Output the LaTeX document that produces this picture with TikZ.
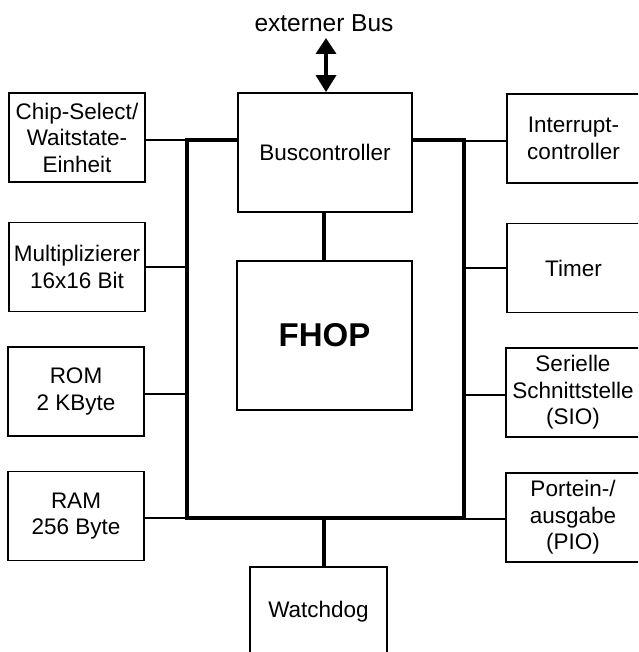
\documentclass[tikz,border=0pt]{standalone}
\usepackage{fontspec}
\setmainfont{Liberation Sans}
\usetikzlibrary{arrows.meta}
\begin{document}
\begin{tikzpicture}[x=1pt,y=-1pt,
  box/.style={draw,line width=1.8pt,fill=white,align=center,inner sep=0pt,
              font=\fontsize{22.5}{26.5}\selectfont},
  unit/.style={box,minimum width=136pt,minimum height=89pt},
  thinline/.style={line width=1.8pt},
  busline/.style={line width=4.5pt},
  link/.style={line width=3.5pt}]
\useasboundingbox (0,0) rectangle (638,652);
\clip (0,0) rectangle (638,652);

% internal bus frame
\coordinate (bnw) at (187,140);
\coordinate (bse) at (464,518);
\draw[busline] (bnw) rectangle (bse);

% taps on the bus
\coordinate (l2) at (187,267);
\coordinate (l3) at (187,394);
\coordinate (l4) at (187,518);
\coordinate (r1) at (464,141);
\coordinate (r2) at (464,268);
\coordinate (r3) at (464,395);
\coordinate (r4) at (464,519);
\coordinate (bsouth) at (324,518);

% core blocks
\node[box,minimum width=174pt,minimum height=119pt] (bc) at (325,152.5) {Buscontroller};
\node[box,minimum width=175pt,minimum height=149pt,
      font=\fontsize{33}{38}\selectfont\bfseries] (fhop) at (324.5,335.5) {FHOP};
\draw[link] (bc.south -| 324,0) -- (fhop.north -| 324,0);

% left peripherals
\node[unit] (cs)  at (77,137.5) {Chip-Select/\\Waitstate-\\Einheit};
\node[unit] (mul) at (77,267)   {Multiplizierer\\16x16 Bit};
\node[unit] (rom) at (76,391.5) {ROM\\2 KByte};
\node[unit] (ram) at (76,516)   {RAM\\256 Byte};

% right peripherals
\node[unit,minimum width=133pt] (irq) at (573.5,138.5) {Interrupt-\\controller};
\node[unit,minimum width=133pt] (tmr) at (573.5,268)   {Timer};
\node[unit,minimum width=134pt] (sio) at (573,392.5)   {Serielle\\Schnittstelle\\(SIO)};
\node[unit,minimum width=134pt] (pio) at (573,517.5)   {Portein-/\\ausgabe\\(PIO)};

% watchdog below the bus
\node[box,minimum width=137pt,minimum height=90pt] (wd) at (318.5,612) {Watchdog};

% connectors to the bus
\draw[thinline] (cs.east |- bnw) -- (bnw);
\draw[thinline] (mul.east |- l2) -- (l2);
\draw[thinline] (rom.east |- l3) -- (l3);
\draw[thinline] (ram.east |- l4) -- (l4);
\draw[thinline] (irq.west |- r1) -- (r1);
\draw[thinline] (tmr.west |- r2) -- (r2);
\draw[thinline] (sio.west |- r3) -- (r3);
\draw[thinline] (pio.west |- r4) -- (r4);
\draw[link] (bsouth) -- (wd.north -| bsouth);

% external bus
\node[font=\fontsize{24.5}{28}\selectfont] (ext) at (324,23) {externer Bus};
\coordinate (atop) at (326,38);
\draw[line width=3.5pt,{Triangle[width=20pt,length=16pt]}-{Triangle[width=20pt,length=17pt]}]
  (atop) -- (bc.north -| atop);
\end{tikzpicture}
\end{document}
